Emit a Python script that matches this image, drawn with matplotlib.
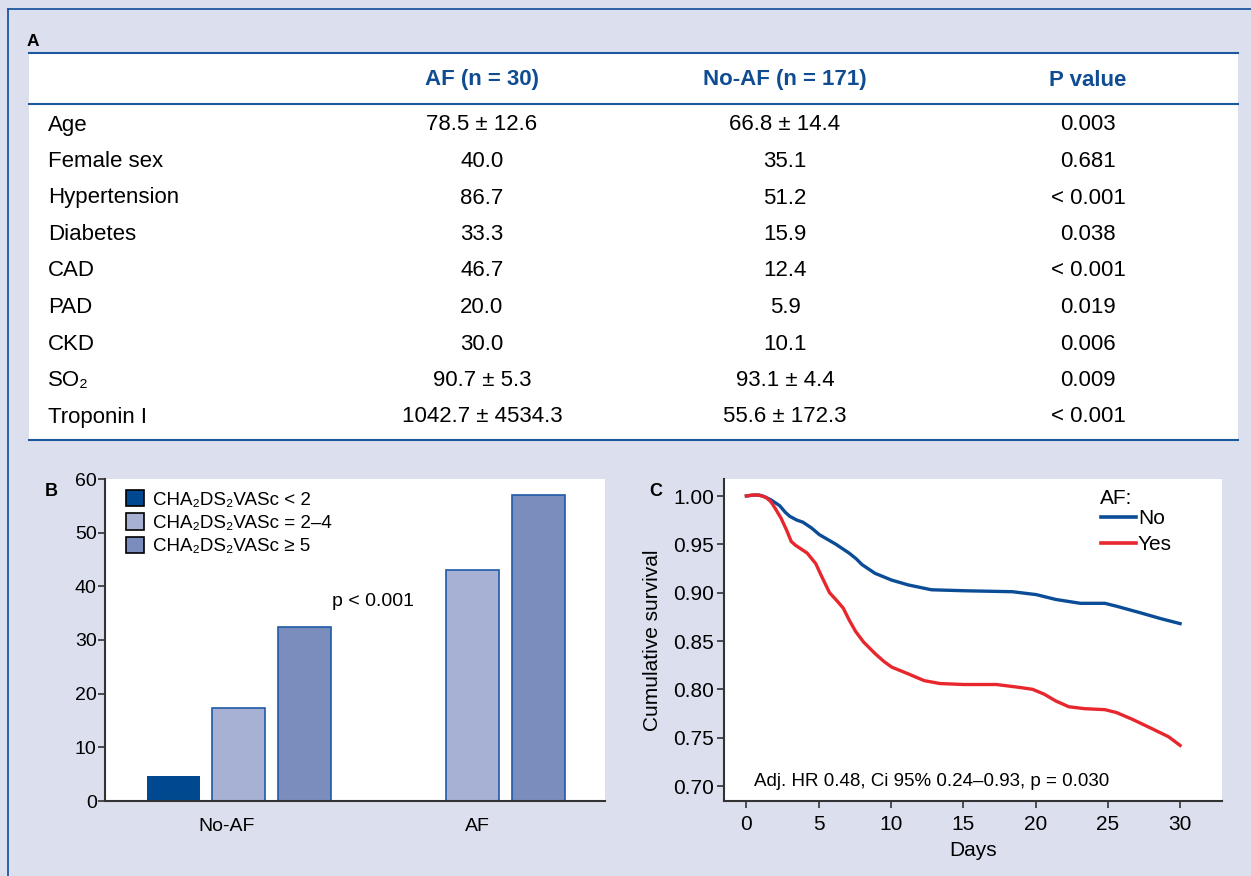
import matplotlib
matplotlib.use("Agg")
import matplotlib.pyplot as plt
from matplotlib.patches import Rectangle, Patch
from matplotlib.lines import Line2D

# 1. 기본 설정
W, H = 1251, 876
BG = '#dce0ee'
BLUE = '#1d57a0'
HEAD_BLUE = '#0f4c92'
NARROW = ['Liberation Sans Narrow', 'Liberation Sans', 'DejaVu Sans']
REGULAR = ['Liberation Sans', 'DejaVu Sans']

plt.rcParams['axes.unicode_minus'] = False

# 2. 데이터
# (A) 표
col_headers = ['AF (n = 30)', 'No-AF (n = 171)', 'P value']
row_labels = ['Age', 'Female sex', 'Hypertension', 'Diabetes', 'CAD', 'PAD',
              'CKD', 'SO₂', 'Troponin I']
af_vals = ['78.5 ± 12.6', '40.0', '86.7', '33.3', '46.7', '20.0', '30.0',
           '90.7 ± 5.3', '1042.7 ± 4534.3']
noaf_vals = ['66.8 ± 14.4', '35.1', '51.2', '15.9', '12.4', '5.9', '10.1',
             '93.1 ± 4.4', '55.6 ± 172.3']
p_vals = ['0.003', '0.681', '< 0.001', '0.038', '< 0.001', '0.019', '0.006',
          '0.009', '< 0.001']

# (B) 막대
groups = ['No-AF', 'AF']
score_labels = ['CHA₂DS₂VASc < 2', 'CHA₂DS₂VASc = 2–4', 'CHA₂DS₂VASc ≥ 5']
score_lt2 = [4.65, 0]
score_2to4 = [17.35, 43.0]
score_ge5 = [32.5, 57.1]

# (C) 생존 곡선
days_no = [0, 0.5, 0.9, 1.3, 1.7, 2.3, 2.7, 3.0, 3.5, 3.9, 4.5, 5.05, 6.2,
           7.1, 7.6, 8.0, 8.9, 10.05, 11.2, 12.8, 15.05, 18.4, 20.05, 21.4,
           23.1, 24.8, 25.6, 27.3, 28.7, 30]
surv_no = [1.000, 1.001, 1.001, 0.999, 0.996, 0.990, 0.983, 0.979, 0.975,
           0.973, 0.967, 0.960, 0.950, 0.941, 0.935, 0.929, 0.920, 0.913,
           0.908, 0.903, 0.902, 0.901, 0.898, 0.893, 0.889, 0.889, 0.886,
           0.879, 0.873, 0.868]
days_yes = [0, 0.4, 0.75, 1.1, 1.4, 1.7, 2.0, 2.4, 2.8, 3.1, 3.4, 3.7, 4.2,
            4.8, 5.2, 5.75, 6.3, 6.7, 7.1, 7.55, 8.1, 8.9, 9.5, 10.05, 11.2,
            12.3, 13.4, 15.05, 17.3, 18.9, 19.8, 20.6, 21.4, 22.3, 23.4, 24.8,
            25.6, 26.7, 28.1, 29.2, 30]
surv_yes = [1.000, 1.001, 1.001, 1.000, 0.998, 0.994, 0.987, 0.977, 0.964,
            0.953, 0.949, 0.946, 0.941, 0.930, 0.917, 0.900, 0.891, 0.884,
            0.872, 0.860, 0.849, 0.837, 0.829, 0.823, 0.816, 0.809, 0.806,
            0.805, 0.805, 0.802, 0.800, 0.795, 0.788, 0.782, 0.780, 0.779,
            0.776, 0.769, 0.759, 0.751, 0.742]


def fx(x):
    return x / W


def fy(y):
    return 1 - y / H


def px_rect(x0, y0, x1, y1):
    return [x0 / W, 1 - y1 / H, (x1 - x0) / W, (y1 - y0) / H]


fig = plt.figure(figsize=(W / 100, H / 100), dpi=100, facecolor=BG)

# 3. 테두리 및 표 (A)
fig.add_artist(Line2D([fx(8), fx(W)], [fy(9), fy(9)], color=BLUE, lw=1.3))
fig.add_artist(Line2D([fx(8), fx(8)], [fy(9), fy(H)], color=BLUE, lw=1.3))
fig.text(fx(33), fy(41), 'A', family=NARROW, weight='bold', fontsize=12.5,
         va='center', ha='center')

fig.add_artist(Rectangle((fx(29), fy(440)), fx(1238) - fx(29), fy(53) - fy(440),
                         transform=fig.transFigure, facecolor='white',
                         edgecolor='none', zorder=0))
for yy in (53, 104, 440):
    fig.add_artist(Line2D([fx(29), fx(1238)], [fy(yy), fy(yy)], color=BLUE,
                          lw=1.5))

col_x = [482, 785, 1088]
for cx, txt in zip(col_x, col_headers):
    fig.text(fx(cx), fy(80), txt, family=REGULAR, weight='bold',
             fontsize=16, color=HEAD_BLUE, ha='center', va='center')

row_y0, row_dy = 125, 36.5
for i, lab in enumerate(row_labels):
    yy = fy(row_y0 + i * row_dy)
    fig.text(fx(48), yy, lab, family=REGULAR, fontsize=16, ha='left',
             va='center')
    for cx, vals in zip(col_x, (af_vals, noaf_vals, p_vals)):
        fig.text(fx(cx), yy, vals[i], family=REGULAR, fontsize=16,
                 ha='center', va='center')

# 4. 막대 그래프 (B)
axb = fig.add_axes(px_rect(105, 479, 605, 801))
axb.set_facecolor('white')
off, bw = 0.28, 0.2265
xs = [0, 1]
fills = ['#00488f', '#a7b1d4', '#7b8dbd']
edges = ['#00488f', '#1f5aa6', '#1f5aa6']
for k, vals in enumerate((score_lt2, score_2to4, score_ge5)):
    axb.bar([x + (k - 1) * off for x in xs], vals, width=bw, color=fills[k],
            edgecolor=edges[k], linewidth=1.2 if k else 0)
axb.set_xlim(-0.571, 1.566)
axb.set_ylim(0, 60)
axb.set_yticks(range(0, 61, 10))
axb.set_xticks([-0.05, 1.02])
axb.set_xticklabels(groups)
axb.tick_params(axis='y', direction='out', length=5, width=1.2, color='#333333',
                pad=1, labelsize=14)
axb.tick_params(axis='x', length=0, pad=12, labelsize=14)
for t in axb.get_xticklabels() + axb.get_yticklabels():
    t.set_family(NARROW)
for s in ('top', 'right'):
    axb.spines[s].set_visible(False)
for s in ('left', 'bottom'):
    axb.spines[s].set_color('#333333')
    axb.spines[s].set_linewidth(1.5)
handles = [Patch(facecolor=fills[k], edgecolor='black', linewidth=1.2)
           for k in range(3)]
axb.legend(handles, score_labels, loc='upper left', bbox_to_anchor=(0.02, 1.0),
           frameon=False, handlelength=0.95, handleheight=0.95,
           handletextpad=0.5, labelspacing=0.25, borderaxespad=0.2,
           prop={'family': NARROW, 'size': 13.5})
axb.text(0.574, 37.2, 'p < 0.001', family=NARROW, fontsize=14, ha='center',
         va='center')
fig.text(fx(51), fy(491), 'B', family=NARROW, weight='bold', fontsize=13,
         ha='center', va='center')

# 5. 생존 곡선 (C)
axc = fig.add_axes(px_rect(724, 479, 1222, 801))
axc.set_facecolor('white')
line_no, = axc.plot(days_no, surv_no, color='#0b4c96', lw=2.4)
line_yes, = axc.plot(days_yes, surv_yes, color='#e8262e', lw=2.4)
axc.set_xlim(-1.55, 32.9)
axc.set_ylim(0.6845, 1.0176)
axc.set_xticks(range(0, 31, 5))
axc.set_yticks([0.70, 0.75, 0.80, 0.85, 0.90, 0.95, 1.00])
axc.set_yticklabels(['0.70', '0.75', '0.80', '0.85', '0.90', '0.95', '1.00'])
axc.tick_params(direction='out', length=5, width=1.2, color='#333333',
                labelsize=15)
axc.tick_params(axis='y', pad=2)
axc.tick_params(axis='x', pad=5)
for t in axc.get_xticklabels() + axc.get_yticklabels():
    t.set_family(NARROW)
for s in ('top', 'right'):
    axc.spines[s].set_visible(False)
for s in ('left', 'bottom'):
    axc.spines[s].set_color('#333333')
    axc.spines[s].set_linewidth(1.5)
axc.set_xlabel('Days', family=NARROW, fontsize=15, labelpad=5)
axc.set_ylabel('Cumulative survival', family=NARROW, fontsize=15, labelpad=8)

# 범례 (AF: No / Yes) 수동 배치
fig.text(fx(1100), fy(499), 'AF:', family=NARROW, fontsize=15, ha='left',
         va='center')
for yy, ln, lab in ((517, line_no, 'No'), (543, line_yes, 'Yes')):
    fig.add_artist(Line2D([fx(1101), fx(1136)], [fy(yy), fy(yy)],
                          color=ln.get_color(), lw=2.6))
    fig.text(fx(1138), fy(yy + 1), lab, family=NARROW, fontsize=15,
             ha='left', va='center')

axc.text(0.55, 0.7045, 'Adj. HR 0.48, Ci 95% 0.24–0.93, p = 0.030',
         family=NARROW, fontsize=13.5, ha='left', va='center')
fig.text(fx(656), fy(491), 'C', family=NARROW, weight='bold', fontsize=13,
         ha='center', va='center')

fig.savefig('out.png', dpi=100, facecolor=BG)
